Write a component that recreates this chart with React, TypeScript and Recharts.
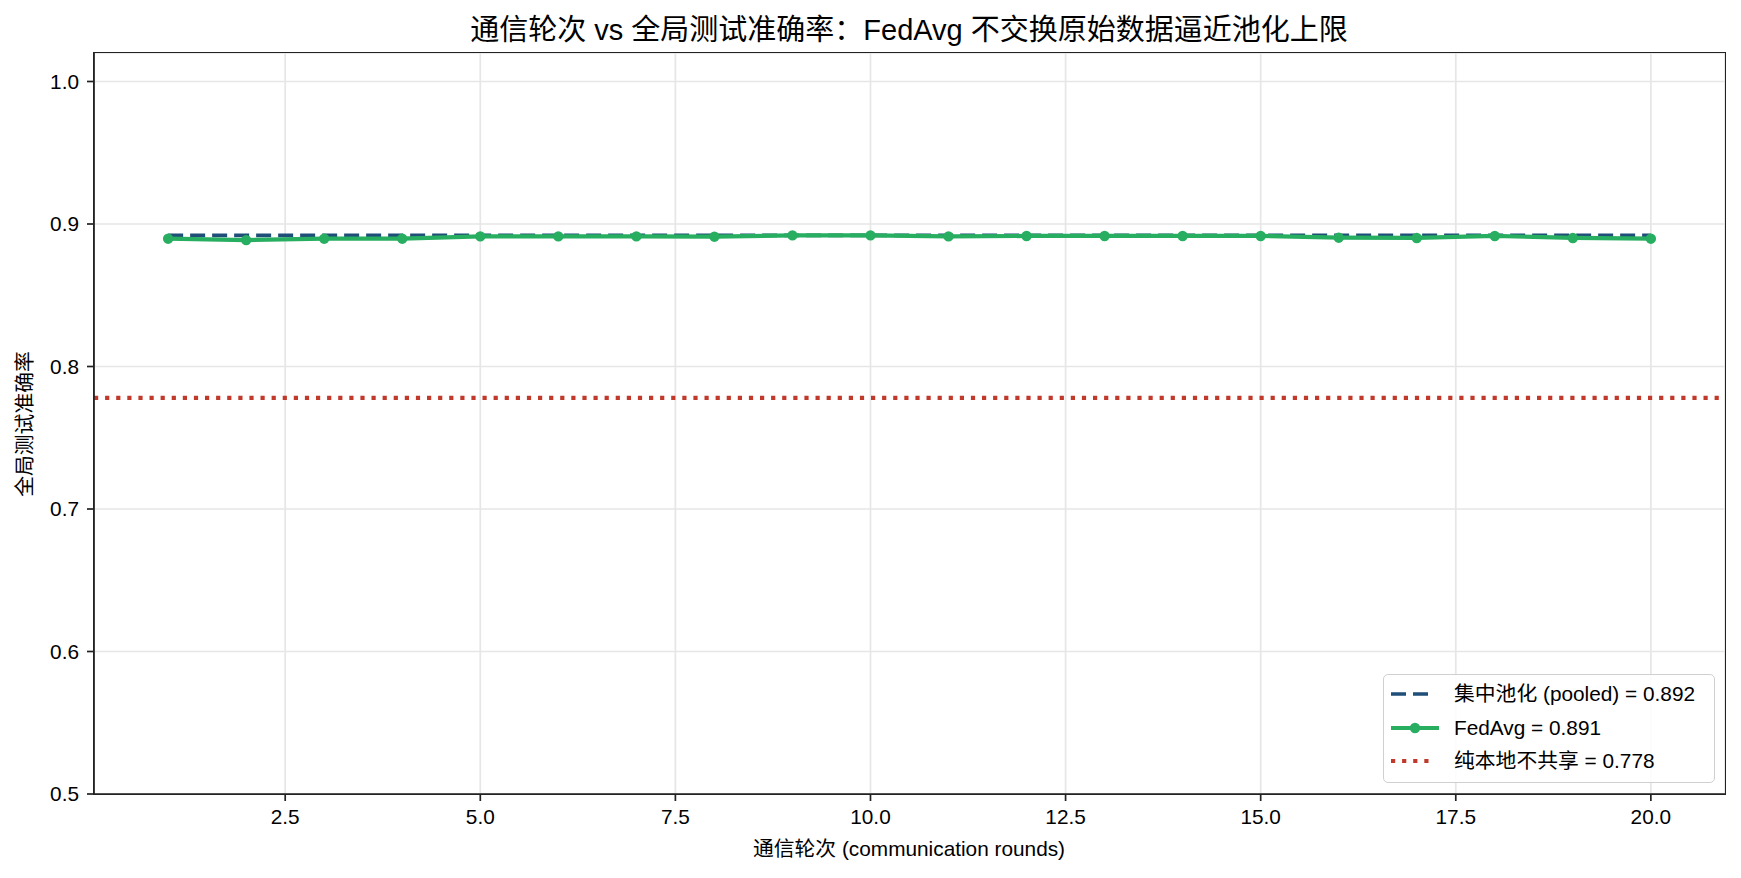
import {
  LineChart,
  Line,
  XAxis,
  YAxis,
  CartesianGrid,
  ReferenceLine,
} from "recharts";

const rounds = [1, 2, 3, 4, 5, 6, 7, 8, 9, 10, 11, 12, 13, 14, 15, 16, 17, 18, 19, 20];
const fedAvgAcc = [
  0.8897, 0.8887, 0.8897, 0.8897, 0.8913, 0.8913, 0.8913, 0.8911, 0.892, 0.892,
  0.8913, 0.8916, 0.8916, 0.8916, 0.8916, 0.8904, 0.8902, 0.8916, 0.8902, 0.8897,
];
const pooledAcc = 0.892;
const fedAvgFinal = 0.891;
const localAcc = 0.778;

const xTicks = [2.5, 5, 7.5, 10, 12.5, 15, 17.5, 20];
const yTicks = [0.5, 0.6, 0.7, 0.8, 0.9, 1.0];

const title = "通信轮次 vs 全局测试准确率：FedAvg 不交换原始数据逼近池化上限";
const xLabel = "通信轮次 (communication rounds)";
const yLabel = "全局测试准确率";

const data = rounds.map((r, i) => ({ round: r, acc: fedAvgAcc[i] }));

const FONT = '"Liberation Sans", Arial, "Noto Sans CJK SC", sans-serif';
const NAVY = "#1f4e79";
const GREEN = "#27ae60";
const RED = "#c0392b";
const AXIS = "#222";

// plot box in page pixels
const PLOT = { left: 94, top: 53, right: 1725, bottom: 794 };

const tickStyle = { fill: "#000", fontSize: 20.8, fontFamily: FONT };

export default function App() {
  return (
    <div
      style={{
        position: "fixed",
        left: 0,
        top: 0,
        width: 1741,
        height: 878,
        background: "#fff",
        fontFamily: FONT,
      }}
    >
      <LineChart
        width={1741}
        height={878}
        data={data}
        margin={{ top: PLOT.top, right: 1741 - PLOT.right, bottom: 44, left: 14 }}
      >
        <CartesianGrid stroke="#e6e6e6" strokeWidth={1.7} />
        <XAxis
          type="number"
          dataKey="round"
          domain={[0.05, 20.95]}
          ticks={xTicks}
          interval={0}
          allowDataOverflow
          height={40}
          tickFormatter={(v: number) => v.toFixed(1)}
          tick={tickStyle}
          tickSize={7}
          tickMargin={8}
          axisLine={{ stroke: AXIS, strokeWidth: 1.7 }}
          tickLine={{ stroke: AXIS, strokeWidth: 1.7 }}
        />
        <YAxis
          type="number"
          domain={[0.5, 1.02]}
          ticks={yTicks}
          interval={0}
          allowDataOverflow
          width={80}
          tickFormatter={(v: number) => v.toFixed(1)}
          tick={tickStyle}
          tickSize={7}
          tickMargin={8}
          axisLine={{ stroke: AXIS, strokeWidth: 1.7 }}
          tickLine={{ stroke: AXIS, strokeWidth: 1.7 }}
        />
        <ReferenceLine
          segment={[
            { x: rounds[0], y: pooledAcc },
            { x: rounds[rounds.length - 1], y: pooledAcc },
          ]}
          stroke={NAVY}
          strokeWidth={3.6}
          strokeDasharray="15 7"
        />
        <ReferenceLine
          y={localAcc}
          stroke={RED}
          strokeWidth={4.2}
          strokeDasharray="4.2 6.9"
        />
        <Line
          type="linear"
          dataKey="acc"
          stroke={GREEN}
          strokeWidth={4.2}
          dot={{ r: 5.2, fill: GREEN, stroke: GREEN, strokeWidth: 0 }}
          activeDot={false}
          isAnimationActive={false}
        />
      </LineChart>

      {/* top and right spines */}
      <div
        style={{
          position: "absolute",
          left: PLOT.left - 0.85,
          top: PLOT.top - 0.85,
          width: PLOT.right - PLOT.left + 1.7,
          height: PLOT.bottom - PLOT.top + 1.7,
          boxSizing: "border-box",
          border: `1.7px solid ${AXIS}`,
          pointerEvents: "none",
        }}
      />

      <div
        style={{
          position: "absolute",
          left: 909,
          top: 30,
          transform: "translate(-50%, -50%)",
          fontSize: 29,
          lineHeight: 1,
          whiteSpace: "nowrap",
          color: "#000",
        }}
      >
        {title}
      </div>
      <div
        style={{
          position: "absolute",
          left: 909,
          top: 849,
          transform: "translate(-50%, -50%)",
          fontSize: 20.8,
          lineHeight: 1,
          whiteSpace: "nowrap",
          color: "#000",
        }}
      >
        {xLabel}
      </div>
      <div
        style={{
          position: "absolute",
          left: 25,
          top: 424,
          transform: "translate(-50%, -50%) rotate(-90deg)",
          fontSize: 20.8,
          lineHeight: 1,
          whiteSpace: "nowrap",
          color: "#000",
        }}
      >
        {yLabel}
      </div>

      <div
        style={{
          position: "absolute",
          left: 1383,
          top: 674,
          width: 332,
          height: 109,
          boxSizing: "border-box",
          border: "1.5px solid #d0d0d0",
          borderRadius: 5,
          background: "rgba(255,255,255,0.85)",
          fontSize: 20.8,
          color: "#000",
        }}
      >
        {[
          { label: `集中池化 (pooled) = ${pooledAcc.toFixed(3)}`, kind: "dash" },
          { label: `FedAvg = ${fedAvgFinal.toFixed(3)}`, kind: "line" },
          { label: `纯本地不共享 = ${localAcc.toFixed(3)}`, kind: "dot" },
        ].map((item, i) => (
          <div
            key={item.label}
            style={{
              position: "absolute",
              left: 0,
              top: 19 + i * 33.5,
              height: 0,
              width: "100%",
            }}
          >
            <svg
              width={50}
              height={14}
              style={{ position: "absolute", left: 6, top: -7 }}
            >
              {item.kind === "dash" && (
                <line
                  x1={1}
                  x2={45}
                  y1={7}
                  y2={7}
                  stroke={NAVY}
                  strokeWidth={3.6}
                  strokeDasharray="15 7"
                />
              )}
              {item.kind === "line" && (
                <>
                  <line x1={1} x2={49} y1={7} y2={7} stroke={GREEN} strokeWidth={4.2} />
                  <circle cx={25} cy={7} r={5.2} fill={GREEN} />
                </>
              )}
              {item.kind === "dot" && (
                <line
                  x1={1}
                  x2={45}
                  y1={7}
                  y2={7}
                  stroke={RED}
                  strokeWidth={4.2}
                  strokeDasharray="4.2 6.9"
                />
              )}
            </svg>
            <div
              style={{
                position: "absolute",
                left: 70,
                top: 0,
                transform: "translateY(-50%)",
                lineHeight: 1,
                whiteSpace: "nowrap",
              }}
            >
              {item.label}
            </div>
          </div>
        ))}
      </div>
    </div>
  );
}
